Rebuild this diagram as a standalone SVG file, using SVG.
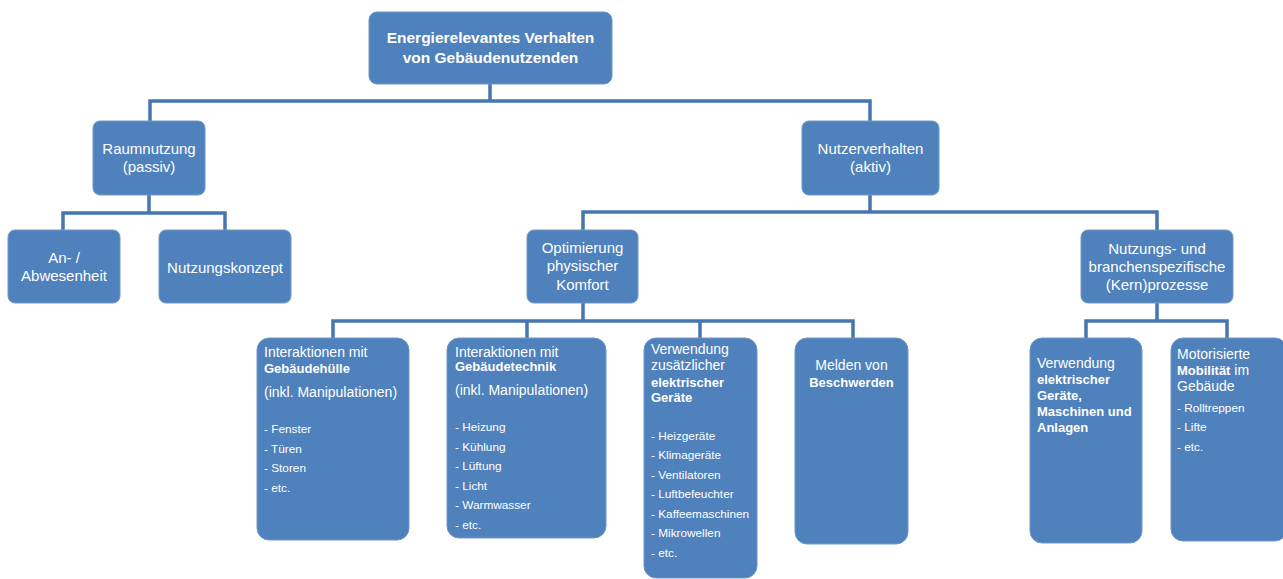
<svg xmlns="http://www.w3.org/2000/svg" width="1283" height="579" viewBox="0 0 1283 579">
<style>
.box{fill:#4f81bd;stroke:#6f97c9;stroke-width:1}
.t{fill:#fff;font-family:"Liberation Sans",Arial,sans-serif}
.c{text-anchor:middle;font-size:15px}
.h{font-size:14px}
.h.b,.h .b{font-size:13px}
.li{font-size:11.8px}
.b{font-weight:bold}
.conn{fill:none;stroke:#4675b0;stroke-width:3.5}
</style>
<rect width="1283" height="579" fill="#fff"/>
<g id="connectors" class="conn">
<path d="M490 84V101M150 121V101H870V121"/>
<path d="M149 195V213M63 230V213H225V230"/>
<path d="M870 195V212M583 230V212H1157V230"/>
<path d="M583 303V321M333 338V321H853V338M527 321V338M700 321V338"/>
<path d="M1157 303V321M1086 338V321H1227V338"/>
</g>
<g id="root"><rect class="box" x="369" y="12" width="243" height="72" rx="8"/>
<text class="t b" x="490.5" y="43" text-anchor="middle" font-size="15.5">Energierelevantes Verhalten</text>
<text class="t b" x="490.5" y="63" text-anchor="middle" font-size="15.5">von Gebäudenutzenden</text></g>
<g id="raumnutzung"><rect class="box" x="93" y="121" width="112" height="74" rx="7"/>
<text class="t c" x="149" y="154">Raumnutzung</text><text class="t c" x="149" y="172">(passiv)</text></g>
<g id="nutzerverhalten"><rect class="box" x="802" y="121" width="137" height="74" rx="7"/>
<text class="t c" x="870.5" y="154">Nutzerverhalten</text><text class="t c" x="870.5" y="172">(aktiv)</text></g>
<g id="anwesenheit"><rect class="box" x="8" y="230" width="112" height="73" rx="7"/>
<text class="t c" x="64" y="263">An- /</text><text class="t c" x="64" y="281">Abwesenheit</text></g>
<g id="nutzungskonzept"><rect class="box" x="159" y="230" width="132" height="73" rx="7"/>
<text class="t c" x="225" y="273">Nutzungskonzept</text></g>
<g id="optimierung"><rect class="box" x="527" y="230" width="111" height="73" rx="7"/>
<text class="t c" x="582.5" y="253">Optimierung</text><text class="t c" x="582.5" y="271">physischer</text><text class="t c" x="582.5" y="290">Komfort</text></g>
<g id="kernprozesse"><rect class="box" x="1081" y="230" width="152" height="73" rx="7"/>
<text class="t c" x="1157" y="254">Nutzungs- und</text><text class="t c" x="1157" y="272">branchenspezifische</text><text class="t c" x="1157" y="290">(Kern)prozesse</text></g>
<g id="gebaeudehuelle"><rect class="box" x="257" y="338" width="152" height="202" rx="12"/>
<text class="t h" x="264" y="357">Interaktionen mit</text>
<text class="t h b" x="264" y="373">Gebäudehülle</text>
<text class="t h" x="264" y="397">(inkl. Manipulationen)</text>
<text class="t li" x="264" y="433">- Fenster</text>
<text class="t li" x="264" y="453">- Türen</text>
<text class="t li" x="264" y="472">- Storen</text>
<text class="t li" x="264" y="492">- etc.</text></g>
<g id="gebaeudetechnik"><rect class="box" x="447" y="338" width="159" height="200" rx="12"/>
<text class="t h" x="455" y="357">Interaktionen mit</text>
<text class="t h b" x="455" y="371">Gebäudetechnik</text>
<text class="t h" x="455" y="395">(inkl. Manipulationen)</text>
<text class="t li" x="455" y="431">- Heizung</text>
<text class="t li" x="455" y="451">- Kühlung</text>
<text class="t li" x="455" y="470">- Lüftung</text>
<text class="t li" x="455" y="490">- Licht</text>
<text class="t li" x="455" y="509">- Warmwasser</text>
<text class="t li" x="455" y="529">- etc.</text></g>
<g id="elektrische-geraete"><rect class="box" x="644" y="338" width="113" height="240" rx="12"/>
<text class="t h" x="651" y="354">Verwendung</text>
<text class="t h" x="651" y="370">zusätzlicher</text>
<text class="t h b" x="651" y="387">elektrischer</text>
<text class="t h b" x="651" y="402">Geräte</text>
<text class="t li" x="651" y="440">- Heizgeräte</text>
<text class="t li" x="651" y="459">- Klimageräte</text>
<text class="t li" x="651" y="479">- Ventilatoren</text>
<text class="t li" x="651" y="498">- Luftbefeuchter</text>
<text class="t li" x="651" y="518">- Kaffeemaschinen</text>
<text class="t li" x="651" y="537">- Mikrowellen</text>
<text class="t li" x="651" y="557">- etc.</text></g>
<g id="beschwerden"><rect class="box" x="795" y="338" width="113" height="206" rx="12"/>
<text class="t h" x="851.5" y="370" text-anchor="middle">Melden von</text>
<text class="t h b" x="851.5" y="387" text-anchor="middle">Beschwerden</text></g>
<g id="maschinen"><rect class="box" x="1030" y="338" width="112" height="205" rx="12"/>
<text class="t h" x="1037" y="368">Verwendung</text>
<text class="t h b" x="1037" y="384">elektrischer</text>
<text class="t h b" x="1037" y="400">Geräte,</text>
<text class="t h b" x="1037" y="416">Maschinen und</text>
<text class="t h b" x="1037" y="432">Anlagen</text></g>
<g id="mobilitaet"><rect class="box" x="1171" y="338" width="116" height="203" rx="12"/>
<text class="t h" x="1177" y="359" font-size="14.5">Motorisierte</text>
<text class="t h" x="1177" y="375" font-size="14.5"><tspan class="b" font-size="14">Mobilität</tspan> im</text>
<text class="t h" x="1177" y="391" font-size="14.5">Gebäude</text>
<text class="t li" x="1177" y="412">- Rolltreppen</text>
<text class="t li" x="1177" y="431">- Lifte</text>
<text class="t li" x="1177" y="451">- etc.</text></g>
</svg>
